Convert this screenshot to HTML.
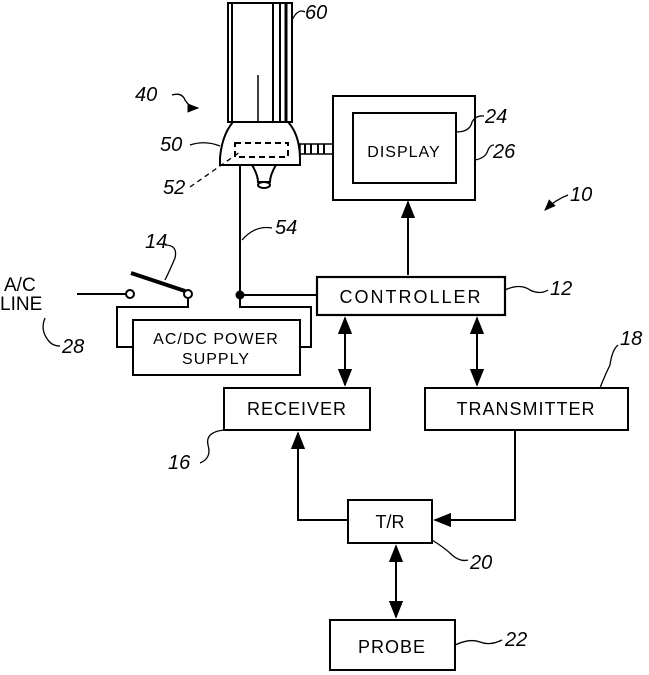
<!DOCTYPE html>
<html><head><style>html,body{margin:0;padding:0;background:#fff}svg{display:block}</style></head><body>
<svg width="649" height="675" viewBox="0 0 649 675" xmlns="http://www.w3.org/2000/svg" font-family="Liberation Sans, sans-serif" fill="none" stroke="#000" stroke-width="2">
<defs><marker id="a" viewBox="0 0 10 10" refX="9" refY="5" markerWidth="9" markerHeight="9" orient="auto-start-reverse"><path d="M0,1 L10,5 L0,9 z" fill="#000" stroke="none"/></marker></defs>
<rect x="228" y="3" width="64" height="119"/>
<line x1="232" y1="3" x2="232" y2="122"/><line x1="273" y1="3" x2="273" y2="122"/><line x1="280" y1="3" x2="280" y2="122"/><line x1="286" y1="3" x2="286" y2="122" stroke-width="3"/>
<line x1="258" y1="75" x2="258" y2="122" stroke-width="1.5"/>
<path d="M233,122 L288,122 Q300,135 300,160 L300,165 L220,165 L220,158 Q222,135 233,122 Z"/>
<rect x="235" y="143" width="53" height="14" stroke-dasharray="6,4"/>
<path d="M252,165 Q258,175 258,182 L270,182 Q270,175 276,165"/>
<ellipse cx="264" cy="185" rx="6" ry="3"/>
<rect x="300" y="144" width="33" height="10" stroke-width="1.5"/>
<line x1="305" y1="144" x2="305" y2="154"/><line x1="311" y1="144" x2="311" y2="154"/><line x1="318" y1="144" x2="318" y2="154"/><line x1="324" y1="144" x2="324" y2="154"/>
<rect x="333" y="96" width="142" height="104"/>
<rect x="353" y="113" width="103" height="70"/>
<text x="404" y="157" font-size="16" text-anchor="middle" fill="#000" stroke="none" letter-spacing="1">DISPLAY</text>
<line x1="408" y1="275" x2="408" y2="202" marker-end="url(#a)"/>
<line x1="240" y1="165" x2="240" y2="295"/>
<circle cx="240" cy="295" r="3.5" fill="#000"/>
<line x1="240" y1="295" x2="317" y2="295"/>
<rect x="317" y="277" width="188" height="38" stroke-width="2.2"/>
<text x="411" y="303" font-size="18" text-anchor="middle" fill="#000" stroke="none" letter-spacing="2">CONTROLLER</text>
<line x1="77" y1="294" x2="126" y2="294"/>
<circle cx="130" cy="294" r="4"/>
<line x1="131" y1="273" x2="185" y2="291" stroke-width="4"/>
<circle cx="188" cy="294" r="4"/>
<path d="M188,298 L188,307 L117,307 L117,347 L133,347"/>
<path d="M240,295 L240,307 L311,307 L311,347 L300,347"/>
<rect x="133" y="320" width="167" height="55"/>
<text x="216" y="344" font-size="16" text-anchor="middle" fill="#000" stroke="none" letter-spacing="1">AC/DC POWER</text>
<text x="216" y="364" font-size="16" text-anchor="middle" fill="#000" stroke="none" letter-spacing="1">SUPPLY</text>
<rect x="224" y="388" width="146" height="42"/>
<text x="297" y="415" font-size="18" text-anchor="middle" fill="#000" stroke="none" letter-spacing="1">RECEIVER</text>
<rect x="425" y="388" width="203" height="42"/>
<text x="526" y="415" font-size="18" text-anchor="middle" fill="#000" stroke="none" letter-spacing="1">TRANSMITTER</text>
<line x1="345" y1="318" x2="345" y2="385" marker-start="url(#a)" marker-end="url(#a)"/>
<line x1="477" y1="318" x2="477" y2="385" marker-start="url(#a)" marker-end="url(#a)"/>
<rect x="348" y="500" width="84" height="43"/>
<text x="390" y="528" font-size="18" text-anchor="middle" fill="#000" stroke="none">T/R</text>
<path d="M348,520 L298,520 L298,433" marker-end="url(#a)"/>
<path d="M515,430 L515,520 L435,520" marker-end="url(#a)"/>
<line x1="396" y1="546" x2="396" y2="617" marker-start="url(#a)" marker-end="url(#a)"/>
<rect x="330" y="620" width="125" height="50"/>
<text x="392" y="653" font-size="18" text-anchor="middle" fill="#000" stroke="none" letter-spacing="1">PROBE</text>
<g fill="#000" stroke="none" font-size="20" font-style="italic">
<text x="305" y="19">60</text><text x="135" y="101">40</text><text x="160" y="151">50</text><text x="163" y="194">52</text>
<text x="275" y="234">54</text><text x="485" y="123">24</text><text x="493" y="158">26</text><text x="570" y="201">10</text>
<text x="145" y="248">14</text><text x="550" y="295">12</text><text x="620" y="345">18</text><text x="168" y="469">16</text>
<text x="470" y="569">20</text><text x="505" y="646">22</text><text x="62" y="353">28</text>
</g>
<g fill="#000" stroke="none" font-size="19"><text x="4" y="291">A/C</text><text x="0" y="310">LINE</text></g>
<g stroke-width="1.3">
<path d="M292,20 Q298,8 305,12"/><path d="M172,95 Q182,92 185,100 Q190,108 198,108" marker-end="url(#a)"/>
<path d="M190,145 Q205,140 220,146"/><path d="M190,187 L240,152" stroke-dasharray="5,4"/>
<path d="M242,240 Q255,225 272,228"/><path d="M456,132 Q470,132 472,122 Q476,115 484,116"/>
<path d="M475,160 Q486,158 488,150 Q490,145 494,145"/><path d="M568,195 Q555,200 545,210" marker-end="url(#a)"/>
<path d="M165,245 Q178,245 175,258 Q170,270 165,280"/><path d="M505,290 Q520,283 530,290 Q540,295 548,290"/>
<path d="M600,388 Q605,375 610,365 Q612,350 618,345"/><path d="M224,430 Q205,432 208,445 Q212,458 200,463"/>
<path d="M432,540 Q445,548 452,555 Q460,562 468,560"/><path d="M455,645 Q470,638 480,642 Q490,646 502,640"/>
<path d="M45,318 Q40,330 48,340 Q52,346 60,346"/>
</g>
</svg>
</body></html>
